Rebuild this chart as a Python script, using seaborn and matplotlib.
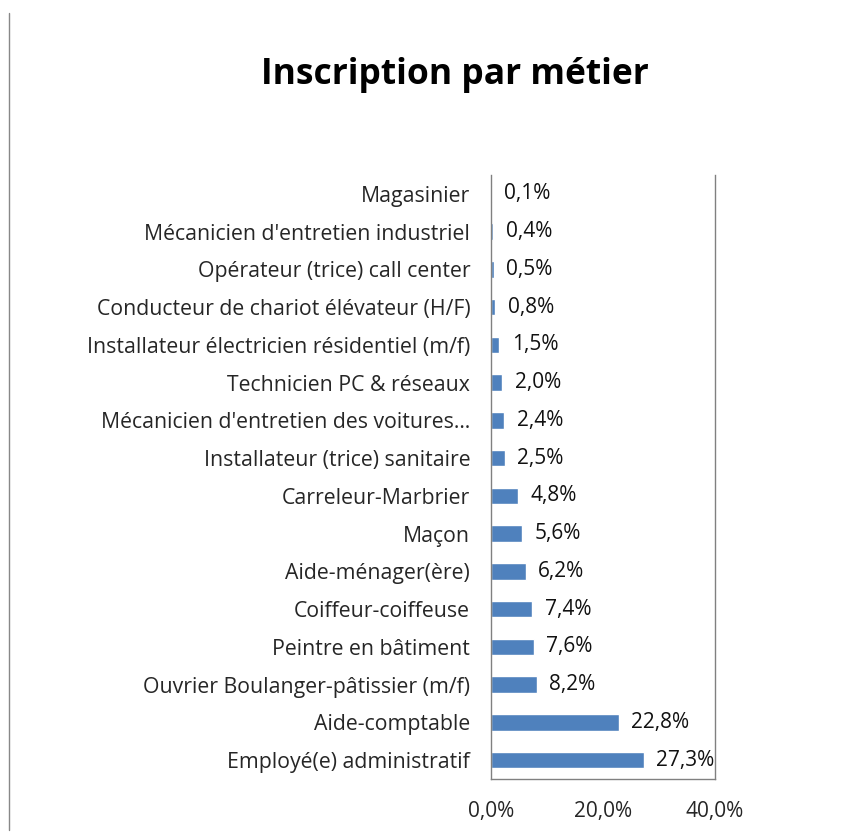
import matplotlib
matplotlib.use("Agg")
import matplotlib.pyplot as plt
import matplotlib.lines as mlines
import numpy as np
import pandas as pd
import seaborn as sns

# Data (top to bottom)
metiers = [
    "Magasinier",
    "Mécanicien d'entretien industriel",
    "Opérateur (trice) call center",
    "Conducteur de chariot élévateur (H/F)",
    "Installateur électricien résidentiel (m/f)",
    "Technicien PC & réseaux",
    "Mécanicien d'entretien des voitures…",
    "Installateur (trice) sanitaire",
    "Carreleur-Marbrier",
    "Maçon",
    "Aide-ménager(ère)",
    "Coiffeur-coiffeuse",
    "Peintre en bâtiment",
    "Ouvrier Boulanger-pâtissier (m/f)",
    "Aide-comptable",
    "Employé(e) administratif",
]
pourcentages = [0.1, 0.4, 0.5, 0.8, 1.5, 2.0, 2.4, 2.5, 4.8, 5.6, 6.2, 7.4, 7.6, 8.2, 22.8, 27.3]
x_ticks = [0, 20, 40]

df = pd.DataFrame({"metier": metiers, "pct": pourcentages})

sns.set_style("white")
plt.rcParams["font.family"] = ["Open Sans", "DejaVu Sans"]

fig = plt.figure(figsize=(8.49, 8.35), dpi=100)
ax = fig.add_axes([0.5783, 0.0671, 0.2638, 0.7234])

sns.barplot(data=df, x="pct", y="metier", orient="h", color="#4F81BD",
            saturation=1, width=0.44, ax=ax)

# value labels with decimal comma
labels = [f"{v:.1f}%".replace(".", ",") for v in pourcentages]
ax.bar_label(ax.containers[0], labels=labels, padding=9, fontsize=15, color="#111111")

ax.set_xlim(0, 40)
ax.set_xticks(x_ticks)
ax.set_xticklabels([f"{t:.1f}%".replace(".", ",") for t in x_ticks], fontsize=15)
ax.set_ylim(len(metiers) - 0.5, -0.5)
ax.set_xlabel("")
ax.set_ylabel("")
ax.tick_params(axis="y", which="major", length=0, pad=15, labelsize=15.3)
ax.set_yticks(np.arange(-0.5, len(metiers), 1), minor=True)
ax.tick_params(axis="y", which="minor", length=7, width=1, color="#808080", direction="out")
ax.tick_params(axis="x", which="major", length=7, width=1, color="#808080",
               direction="out", pad=9)

# the middle x tick has no tick mark in the original
mid_tick = ax.xaxis.get_major_ticks()[1]
mid_tick.tick1line.set_visible(False)

for side in ["left", "bottom", "right"]:
    ax.spines[side].set_visible(True)
    ax.spines[side].set_color("#808080")
    ax.spines[side].set_linewidth(1)
ax.spines["top"].set_visible(False)

fig.text(0.536, 0.91, "Inscription par métier", ha="center", va="center",
         fontsize=25.5, fontweight="bold", color="black")

# thin border line on the left edge of the chart area
fig.add_artist(mlines.Line2D([0.0106, 0.0106], [0.006, 0.984], color="#888888", lw=1))

fig.savefig("out.png", dpi=100)
